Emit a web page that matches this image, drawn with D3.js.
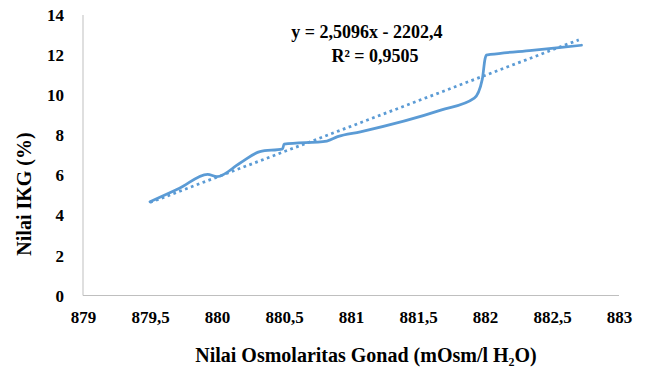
<!DOCTYPE html>
<html>
<head>
<meta charset="utf-8">
<script src="https://cdn.jsdelivr.net/npm/d3@7"></script>
<style>
  html, body { margin: 0; padding: 0; background: #fff; }
  svg { display: block; }
  text { font-family: "Liberation Serif", "Times New Roman", serif; font-weight: bold; fill: #000; }
</style>
</head>
<body>
<svg id="chart" width="650" height="374"></svg>
<script>
const osmolaritas = [879.50, 879.72, 879.93, 880.00, 880.17, 880.32, 880.49, 880.50, 880.82, 880.90, 881.07, 881.67, 881.92, 881.98, 882.00, 882.01, 882.04, 882.35, 882.72];
const ikg         = [4.68,   5.35,   6.05,   5.93,   6.60,   7.18,   7.32,   7.55,   7.71,   7.93,   8.17,   9.25,   9.85,   10.8,   11.8,   12.0,   12.03,  12.24,  12.49];

// Linear trendline endpoints
const trendX = [879.50, 882.70];
const trendY = [4.64, 12.76];

const xTicks = [879, 879.5, 880, 880.5, 881, 881.5, 882, 882.5, 883];
const yTicks = [0, 2, 4, 6, 8, 10, 12, 14];

const equationLines = ["y = 2,5096x - 2202,4", "R² = 0,9505"];
const xTitle = "Nilai Osmolaritas Gonad (mOsm/l H₂O)";
const yTitle = "Nilai IKG (%)";

const svg = d3.select("#chart");
const mLeft = 83, mRight = 619, mTop = 15, mBottom = 295.5;

const x = d3.scaleLinear().domain([879, 883]).range([mLeft, mRight]);
const y = d3.scaleLinear().domain([0, 14]).range([mBottom, mTop]);

const fmt = d => String(d).replace(".", ",");

// Axis lines
svg.append("line").attr("x1", mLeft).attr("x2", mLeft).attr("y1", mTop).attr("y2", mBottom)
  .attr("stroke", "#bfbfbf").attr("stroke-width", 1);
svg.append("line").attr("x1", mLeft).attr("x2", mRight).attr("y1", mBottom).attr("y2", mBottom)
  .attr("stroke", "#bfbfbf").attr("stroke-width", 1);

// X axis tick labels
const xAxis = d3.axisBottom(x).tickValues(xTicks).tickFormat(fmt).tickSize(0).tickPadding(0);
const gx = svg.append("g").attr("transform", `translate(0,${mBottom})`).call(xAxis);
gx.select(".domain").remove();
gx.selectAll("text").attr("dy", null).attr("y", 27)
  .style("font-family", '"Liberation Serif", "Times New Roman", serif')
  .style("font-weight", "bold").style("font-size", "17px").attr("fill", "#000");

// Y axis tick labels
const yAxis = d3.axisLeft(y).tickValues(yTicks).tickFormat(fmt).tickSize(0).tickPadding(19);
const gy = svg.append("g").attr("transform", `translate(${mLeft},0)`).call(yAxis);
gy.select(".domain").remove();
gy.selectAll("text").attr("dy", "0.33em")
  .style("font-family", '"Liberation Serif", "Times New Roman", serif')
  .style("font-weight", "bold").style("font-size", "17px").attr("fill", "#000");

// Data line (smoothed)
const pts = osmolaritas.map((v, i) => [v, ikg[i]]);
const line = d3.line().x(d => x(d[0])).y(d => y(d[1])).curve(d3.curveMonotoneX);
svg.append("path").datum(pts).attr("d", line)
  .attr("fill", "none").attr("stroke", "#5b9bd5").attr("stroke-width", 2.75)
  .attr("stroke-linejoin", "round").attr("stroke-linecap", "round");

// Trendline (dotted)
const tpts = trendX.map((v, i) => [v, trendY[i]]);
svg.append("path").datum(tpts).attr("d", d3.line().x(d => x(d[0])).y(d => y(d[1])))
  .attr("fill", "none").attr("stroke", "#5b9bd5").attr("stroke-width", 2.75)
  .attr("stroke-dasharray", "2.75,3.5");

// Equation label
svg.append("text").attr("x", 367).attr("y", 38).attr("text-anchor", "middle")
  .style("font-size", "18px").text(equationLines[0]);
svg.append("text").attr("x", 375).attr("y", 62).attr("text-anchor", "middle")
  .style("font-size", "18px").text(equationLines[1]);

// Axis titles
svg.append("text").attr("x", 366).attr("y", 362).attr("text-anchor", "middle")
  .style("font-size", "20px").text(xTitle);
svg.append("text").attr("transform", "translate(31,194) rotate(-90)").attr("text-anchor", "middle")
  .style("font-size", "20px").text(yTitle);
</script>
</body>
</html>
